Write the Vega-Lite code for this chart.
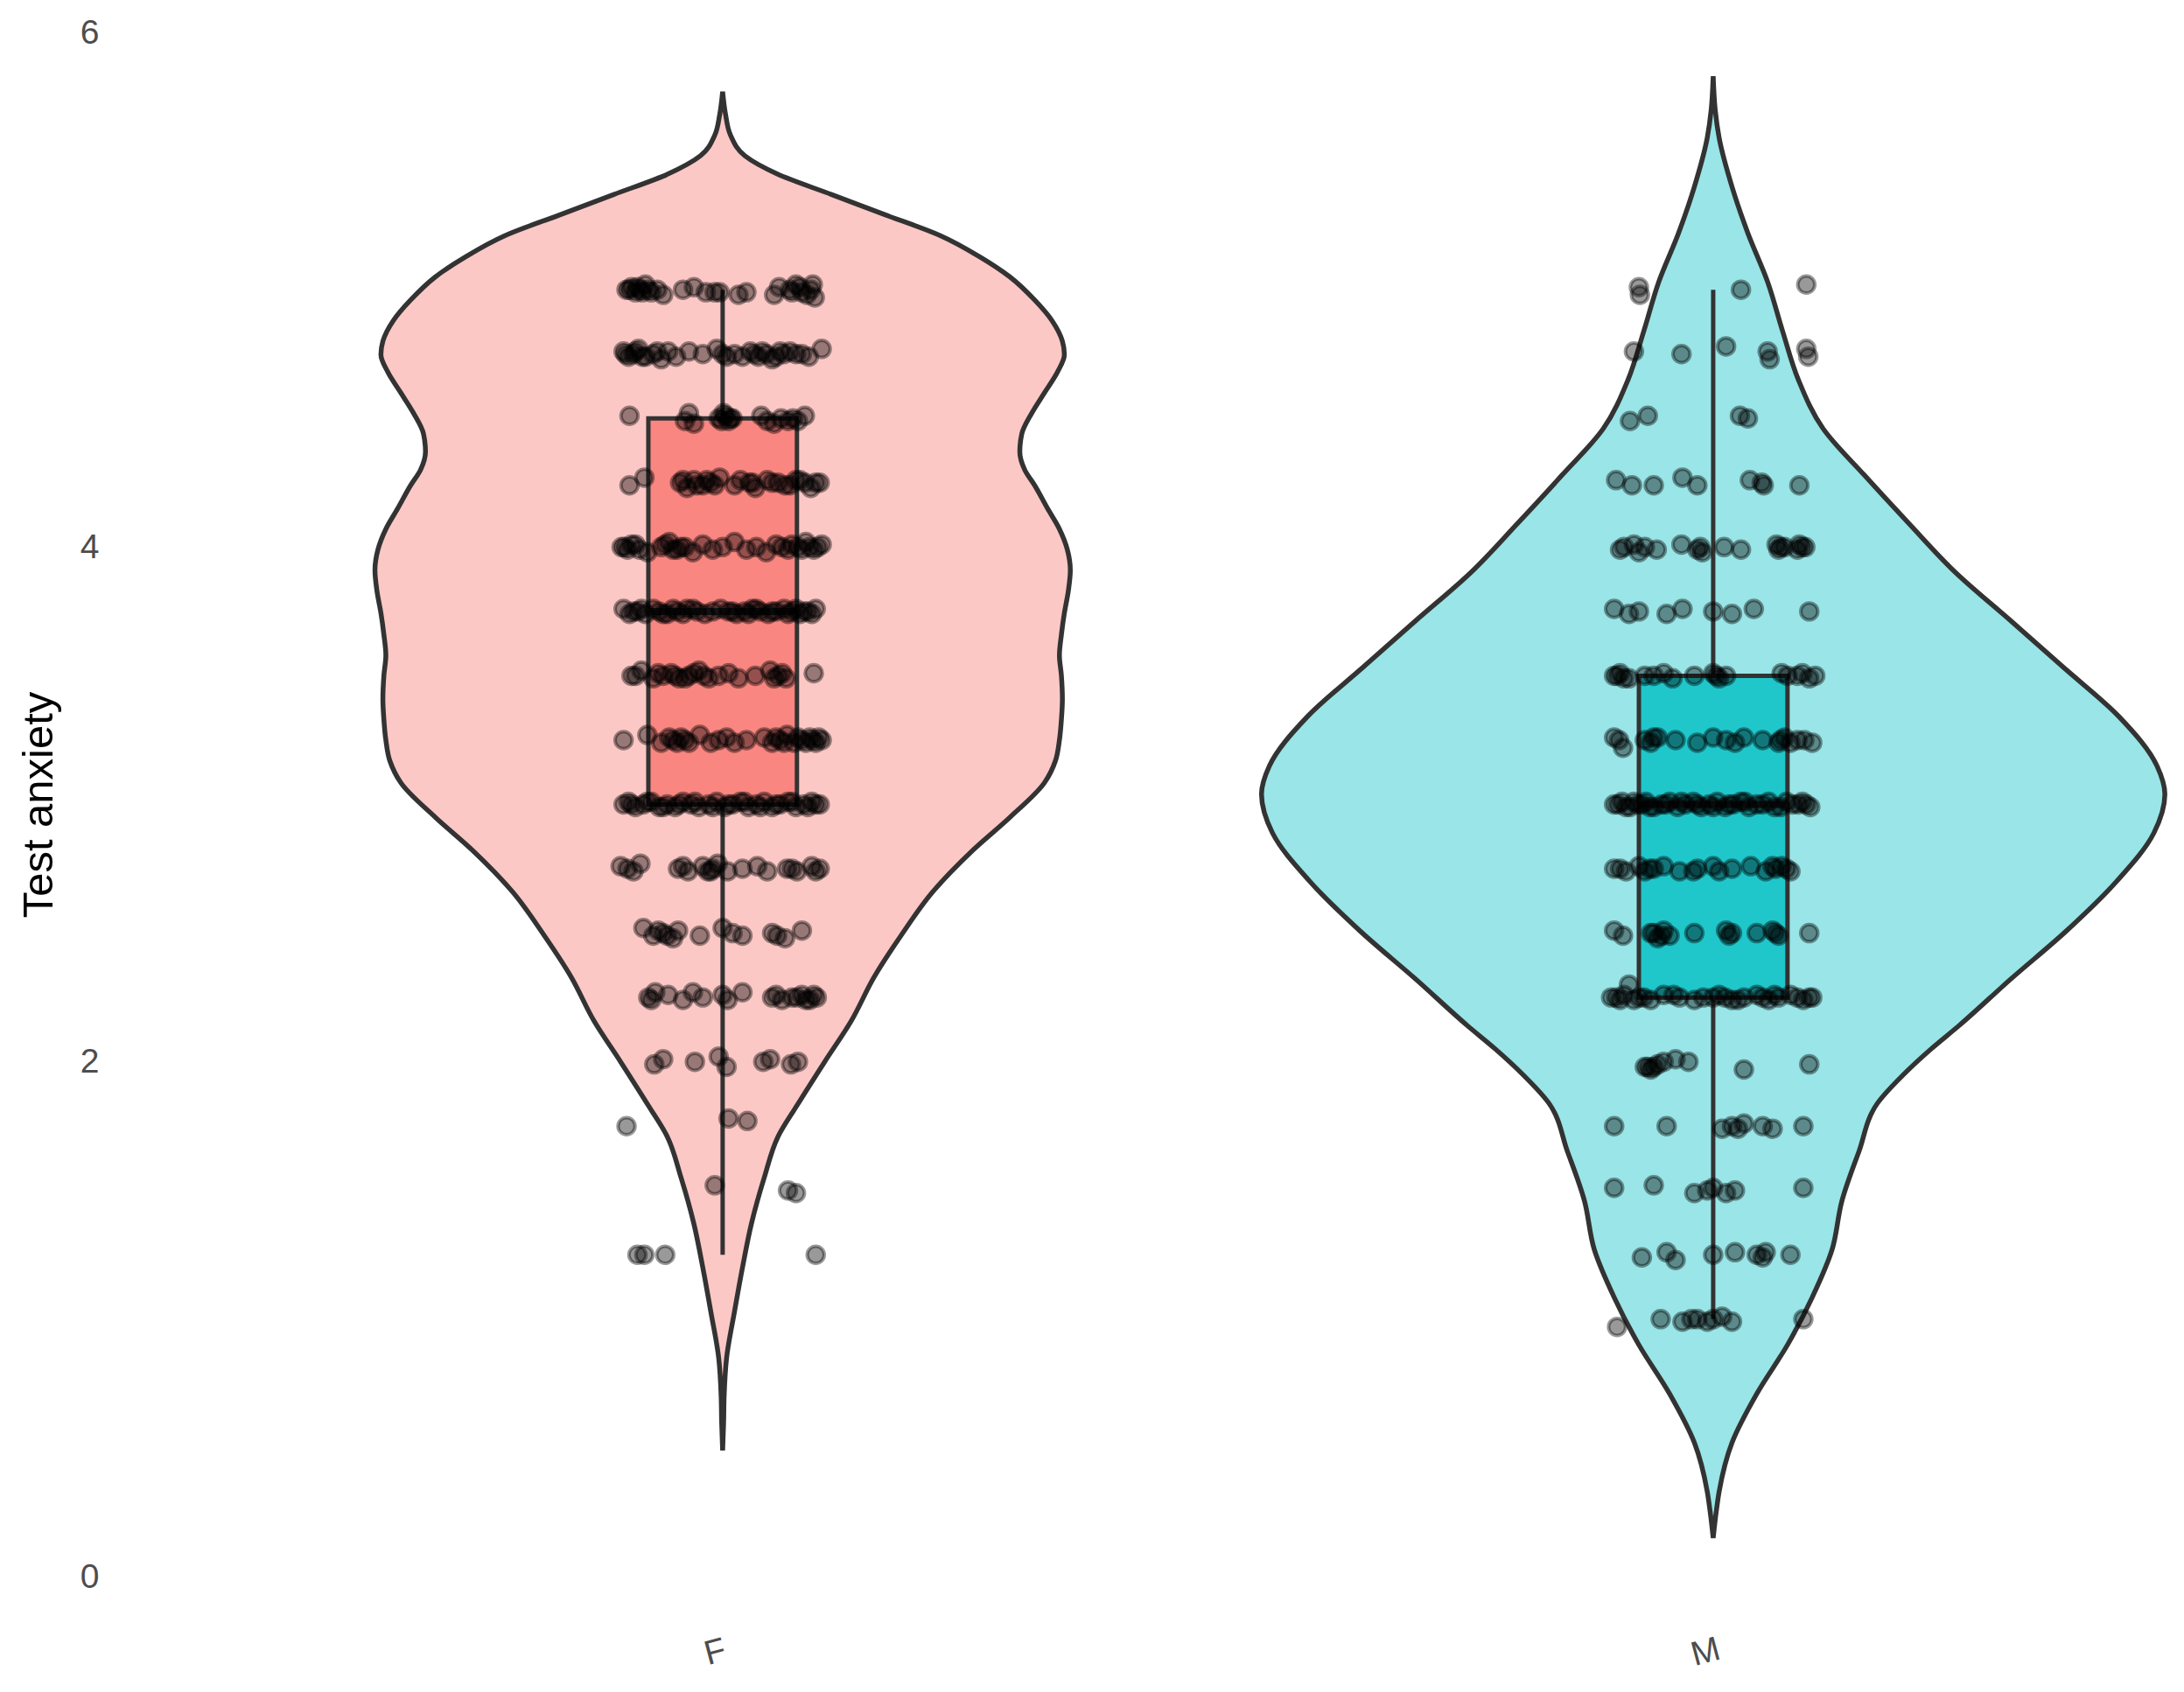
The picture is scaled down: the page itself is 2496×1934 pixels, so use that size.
{
  "$schema": "https://vega.github.io/schema/vega-lite/v6.json",
  "autosize": {"type": "none"},
  "padding": {"left": 124, "top": 37, "right": 6, "bottom": 132},
  "background": "#ffffff",
  "width": 2366,
  "height": 1765,
  "config": {
    "view": {"stroke": null},
    "axis": {"grid": false, "domain": false, "ticks": false, "labelFont": "Liberation Sans", "labelFontSize": 39, "labelColor": "#4D4D4D", "titleFont": "Liberation Sans", "titleFontSize": 49, "titleColor": "#000000", "titleFontWeight": "normal"}
  },
  "datasets": {
    "violin": [
      {"g":"F","y":0.49,"w":0},{"g":"F","y":0.6,"w":0.002},{"g":"F","y":0.7,"w":0.003},{"g":"F","y":0.85,"w":0.008},{"g":"F","y":1.03,"w":0.024},{"g":"F","y":1.2,"w":0.04},{"g":"F","y":1.37,"w":0.058},{"g":"F","y":1.55,"w":0.084},{"g":"F","y":1.71,"w":0.112},{"g":"F","y":1.83,"w":0.15},{"g":"F","y":2.0,"w":0.206},{"g":"F","y":2.16,"w":0.26},{"g":"F","y":2.33,"w":0.306},{"g":"F","y":2.49,"w":0.36},{"g":"F","y":2.66,"w":0.424},{"g":"F","y":2.82,"w":0.504},{"g":"F","y":2.95,"w":0.58},{"g":"F","y":3.085,"w":0.65},{"g":"F","y":3.17,"w":0.672},{"g":"F","y":3.25,"w":0.68},{"g":"F","y":3.33,"w":0.684},{"g":"F","y":3.41,"w":0.686},{"g":"F","y":3.5,"w":0.684},{"g":"F","y":3.58,"w":0.68},{"g":"F","y":3.66,"w":0.684},{"g":"F","y":3.744,"w":0.69},{"g":"F","y":3.83,"w":0.698},{"g":"F","y":3.91,"w":0.702},{"g":"F","y":3.99,"w":0.696},{"g":"F","y":4.07,"w":0.68},{"g":"F","y":4.15,"w":0.656},{"g":"F","y":4.24,"w":0.63},{"g":"F","y":4.3,"w":0.61},{"g":"F","y":4.37,"w":0.6},{"g":"F","y":4.44,"w":0.604},{"g":"F","y":4.52,"w":0.624},{"g":"F","y":4.6,"w":0.65},{"g":"F","y":4.68,"w":0.676},{"g":"F","y":4.748,"w":0.69},{"g":"F","y":4.8,"w":0.686},{"g":"F","y":4.88,"w":0.665},{"g":"F","y":4.96,"w":0.63},{"g":"F","y":5.05,"w":0.58},{"g":"F","y":5.127,"w":0.52},{"g":"F","y":5.21,"w":0.44},{"g":"F","y":5.29,"w":0.33},{"g":"F","y":5.37,"w":0.22},{"g":"F","y":5.45,"w":0.11},{"g":"F","y":5.52,"w":0.045},{"g":"F","y":5.6,"w":0.016},{"g":"F","y":5.68,"w":0.006},{"g":"F","y":5.77,"w":0},
      {"g":"M","y":0.15,"w":0},{"g":"M","y":0.25,"w":0.006},{"g":"M","y":0.33,"w":0.012},{"g":"M","y":0.52,"w":0.038},{"g":"M","y":0.71,"w":0.088},{"g":"M","y":0.9,"w":0.15},{"g":"M","y":1.085,"w":0.2},{"g":"M","y":1.27,"w":0.24},{"g":"M","y":1.46,"w":0.26},{"g":"M","y":1.65,"w":0.294},{"g":"M","y":1.84,"w":0.332},{"g":"M","y":1.95,"w":0.384},{"g":"M","y":2.05,"w":0.44},{"g":"M","y":2.14,"w":0.496},{"g":"M","y":2.32,"w":0.6},{"g":"M","y":2.51,"w":0.714},{"g":"M","y":2.7,"w":0.814},{"g":"M","y":2.89,"w":0.89},{"g":"M","y":3.04,"w":0.912},{"g":"M","y":3.15,"w":0.896},{"g":"M","y":3.34,"w":0.82},{"g":"M","y":3.528,"w":0.71},{"g":"M","y":3.715,"w":0.6},{"g":"M","y":3.9,"w":0.49},{"g":"M","y":4.09,"w":0.396},{"g":"M","y":4.28,"w":0.305},{"g":"M","y":4.46,"w":0.222},{"g":"M","y":4.65,"w":0.172},{"g":"M","y":4.84,"w":0.14},{"g":"M","y":5.03,"w":0.11},{"g":"M","y":5.22,"w":0.07},{"g":"M","y":5.4,"w":0.038},{"g":"M","y":5.59,"w":0.012},{"g":"M","y":5.7,"w":0.004},{"g":"M","y":5.83,"w":0}
    ],
    "box": [
      {"g":"F","lo":1.25,"q1":3.0,"med":3.75,"q3":4.5,"hi":5.0},
      {"g":"M","lo":1.0,"q1":2.25,"med":3.0,"q3":3.5,"hi":5.0}
    ],
    "pts": [
      {"g":"F","y":5.0,"j":-0.097},{"g":"F","y":5.01,"j":-0.092},{"g":"F","y":4.99,"j":-0.088},{"g":"F","y":5.0,"j":-0.083},{"g":"F","y":5.02,"j":-0.078},{"g":"F","y":4.99,"j":-0.072},{"g":"F","y":5.0,"j":-0.066},{"g":"F","y":4.98,"j":-0.06},{"g":"F","y":5.0,"j":-0.04},{"g":"F","y":5.01,"j":-0.029},{"g":"F","y":4.99,"j":-0.017},{"g":"F","y":4.99,"j":-0.008},{"g":"F","y":4.98,"j":0.016},{"g":"F","y":4.99,"j":0.024},{"g":"F","y":4.98,"j":0.052},{"g":"F","y":5.01,"j":0.057},{"g":"F","y":5.0,"j":0.068},{"g":"F","y":5.02,"j":0.074},{"g":"F","y":4.99,"j":0.08},{"g":"F","y":5.0,"j":0.089},{"g":"F","y":4.97,"j":0.093},
      {"g":"F","y":5.0,"j":-0.094},{"g":"F","y":5.01,"j":-0.086},{"g":"F","y":4.99,"j":-0.081},{"g":"F","y":5.0,"j":-0.075},{"g":"F","y":4.99,"j":0.07},{"g":"F","y":5.01,"j":0.078},{"g":"F","y":4.98,"j":0.085},{"g":"F","y":5.02,"j":0.091},{"g":"F","y":4.99,"j":-0.003},
      {"g":"F","y":4.76,"j":-0.1},{"g":"F","y":4.74,"j":-0.095},{"g":"F","y":4.75,"j":-0.09},{"g":"F","y":4.77,"j":-0.085},{"g":"F","y":4.74,"j":-0.078},{"g":"F","y":4.75,"j":-0.07},{"g":"F","y":4.73,"j":-0.062},{"g":"F","y":4.76,"j":-0.055},{"g":"F","y":4.74,"j":-0.047},{"g":"F","y":4.76,"j":-0.034},{"g":"F","y":4.75,"j":-0.02},{"g":"F","y":4.77,"j":-0.006},{"g":"F","y":4.74,"j":0.004},{"g":"F","y":4.75,"j":0.012},{"g":"F","y":4.74,"j":0.02},{"g":"F","y":4.76,"j":0.028},{"g":"F","y":4.74,"j":0.036},{"g":"F","y":4.75,"j":0.044},{"g":"F","y":4.73,"j":0.05},{"g":"F","y":4.76,"j":0.058},{"g":"F","y":4.75,"j":0.074},{"g":"F","y":4.74,"j":0.087},{"g":"F","y":4.77,"j":0.1},
      {"g":"F","y":4.75,"j":-0.098},{"g":"F","y":4.76,"j":-0.088},{"g":"F","y":4.74,"j":-0.081},{"g":"F","y":4.76,"j":-0.066},{"g":"F","y":4.75,"j":0.0},{"g":"F","y":4.75,"j":0.032},{"g":"F","y":4.76,"j":0.04},{"g":"F","y":4.74,"j":0.054},{"g":"F","y":4.75,"j":0.062},{"g":"F","y":4.76,"j":0.068},{"g":"F","y":4.75,"j":0.08},
      {"g":"F","y":4.51,"j":-0.094},{"g":"F","y":4.52,"j":-0.034},{"g":"F","y":4.48,"j":-0.029},{"g":"F","y":4.5,"j":-0.004},{"g":"F","y":4.52,"j":0.001},{"g":"F","y":4.49,"j":0.006},{"g":"F","y":4.5,"j":0.01},{"g":"F","y":4.51,"j":0.039},{"g":"F","y":4.49,"j":0.045},{"g":"F","y":4.48,"j":0.052},{"g":"F","y":4.5,"j":0.059},{"g":"F","y":4.49,"j":0.066},{"g":"F","y":4.5,"j":0.071},{"g":"F","y":4.51,"j":0.083},
      {"g":"F","y":4.51,"j":0.003},{"g":"F","y":4.5,"j":0.008},{"g":"F","y":4.49,"j":-0.001},{"g":"F","y":4.49,"j":0.076},{"g":"F","y":4.49,"j":-0.038},
      {"g":"F","y":4.24,"j":-0.094},{"g":"F","y":4.27,"j":-0.079},{"g":"F","y":4.25,"j":-0.043},{"g":"F","y":4.23,"j":-0.036},{"g":"F","y":4.26,"j":-0.029},{"g":"F","y":4.24,"j":-0.02},{"g":"F","y":4.25,"j":-0.012},{"g":"F","y":4.27,"j":-0.003},{"g":"F","y":4.24,"j":0.012},{"g":"F","y":4.25,"j":0.027},{"g":"F","y":4.23,"j":0.033},{"g":"F","y":4.26,"j":0.045},{"g":"F","y":4.25,"j":0.05},{"g":"F","y":4.24,"j":0.063},{"g":"F","y":4.26,"j":0.074},{"g":"F","y":4.25,"j":0.083},{"g":"F","y":4.23,"j":0.089},{"g":"F","y":4.25,"j":0.098},
      {"g":"F","y":4.26,"j":-0.04},{"g":"F","y":4.24,"j":-0.026},{"g":"F","y":4.26,"j":-0.016},{"g":"F","y":4.24,"j":-0.008},{"g":"F","y":4.26,"j":0.018},{"g":"F","y":4.25,"j":0.03},{"g":"F","y":4.25,"j":0.056},{"g":"F","y":4.24,"j":0.068},{"g":"F","y":4.26,"j":0.078},{"g":"F","y":4.25,"j":0.094},
      {"g":"F","y":4.0,"j":-0.102},{"g":"F","y":3.99,"j":-0.096},{"g":"F","y":4.01,"j":-0.088},{"g":"F","y":3.98,"j":-0.076},{"g":"F","y":4.0,"j":-0.062},{"g":"F","y":4.02,"j":-0.054},{"g":"F","y":3.99,"j":-0.046},{"g":"F","y":4.0,"j":-0.038},{"g":"F","y":3.98,"j":-0.03},{"g":"F","y":4.01,"j":-0.02},{"g":"F","y":3.99,"j":-0.01},{"g":"F","y":4.0,"j":0.0},{"g":"F","y":4.02,"j":0.012},{"g":"F","y":3.99,"j":0.024},{"g":"F","y":4.0,"j":0.034},{"g":"F","y":3.98,"j":0.044},{"g":"F","y":4.01,"j":0.054},{"g":"F","y":3.99,"j":0.066},{"g":"F","y":4.0,"j":0.076},{"g":"F","y":4.02,"j":0.084},{"g":"F","y":3.99,"j":0.092},{"g":"F","y":4.01,"j":0.1},
      {"g":"F","y":4.0,"j":-0.099},{"g":"F","y":4.01,"j":-0.092},{"g":"F","y":3.99,"j":-0.084},{"g":"F","y":4.01,"j":-0.058},{"g":"F","y":3.99,"j":-0.05},{"g":"F","y":4.0,"j":-0.042},{"g":"F","y":4.0,"j":0.06},{"g":"F","y":4.01,"j":0.07},{"g":"F","y":3.99,"j":0.08},{"g":"F","y":4.0,"j":0.088},{"g":"F","y":4.0,"j":0.096},
      {"g":"F","y":3.76,"j":-0.1},{"g":"F","y":3.74,"j":-0.094},{"g":"F","y":3.75,"j":-0.086},{"g":"F","y":3.74,"j":-0.078},{"g":"F","y":3.76,"j":-0.07},{"g":"F","y":3.75,"j":-0.064},{"g":"F","y":3.74,"j":-0.056},{"g":"F","y":3.75,"j":-0.046},{"g":"F","y":3.76,"j":-0.036},{"g":"F","y":3.75,"j":-0.026},{"g":"F","y":3.74,"j":-0.018},{"g":"F","y":3.75,"j":-0.01},{"g":"F","y":3.76,"j":-0.002},{"g":"F","y":3.75,"j":0.006},{"g":"F","y":3.74,"j":0.014},{"g":"F","y":3.75,"j":0.022},{"g":"F","y":3.76,"j":0.03},{"g":"F","y":3.75,"j":0.038},{"g":"F","y":3.74,"j":0.046},{"g":"F","y":3.75,"j":0.054},{"g":"F","y":3.76,"j":0.062},{"g":"F","y":3.75,"j":0.07},{"g":"F","y":3.74,"j":0.078},{"g":"F","y":3.75,"j":0.086},{"g":"F","y":3.76,"j":0.094},
      {"g":"F","y":3.75,"j":-0.09},{"g":"F","y":3.76,"j":-0.082},{"g":"F","y":3.74,"j":-0.06},{"g":"F","y":3.76,"j":-0.05},{"g":"F","y":3.74,"j":-0.04},{"g":"F","y":3.76,"j":-0.03},{"g":"F","y":3.75,"j":0.01},{"g":"F","y":3.74,"j":0.026},{"g":"F","y":3.76,"j":0.034},{"g":"F","y":3.75,"j":0.05},{"g":"F","y":3.74,"j":0.066},{"g":"F","y":3.76,"j":0.074},{"g":"F","y":3.75,"j":0.082},{"g":"F","y":3.74,"j":0.09},
      {"g":"F","y":3.5,"j":-0.092},{"g":"F","y":3.52,"j":-0.082},{"g":"F","y":3.49,"j":-0.07},{"g":"F","y":3.5,"j":-0.06},{"g":"F","y":3.51,"j":-0.052},{"g":"F","y":3.49,"j":-0.044},{"g":"F","y":3.5,"j":-0.034},{"g":"F","y":3.52,"j":-0.024},{"g":"F","y":3.49,"j":-0.014},{"g":"F","y":3.5,"j":-0.004},{"g":"F","y":3.51,"j":0.006},{"g":"F","y":3.49,"j":0.016},{"g":"F","y":3.5,"j":0.033},{"g":"F","y":3.52,"j":0.048},{"g":"F","y":3.5,"j":0.056},{"g":"F","y":3.49,"j":0.064},{"g":"F","y":3.51,"j":0.092},
      {"g":"F","y":3.5,"j":-0.088},{"g":"F","y":3.51,"j":-0.065},{"g":"F","y":3.5,"j":-0.048},{"g":"F","y":3.49,"j":-0.038},{"g":"F","y":3.51,"j":-0.029},{"g":"F","y":3.5,"j":-0.019},{"g":"F","y":3.51,"j":0.06},{"g":"F","y":3.49,"j":0.052},
      {"g":"F","y":3.25,"j":-0.1},{"g":"F","y":3.27,"j":-0.076},{"g":"F","y":3.24,"j":-0.062},{"g":"F","y":3.26,"j":-0.054},{"g":"F","y":3.24,"j":-0.046},{"g":"F","y":3.25,"j":-0.038},{"g":"F","y":3.27,"j":-0.023},{"g":"F","y":3.24,"j":-0.012},{"g":"F","y":3.25,"j":-0.004},{"g":"F","y":3.26,"j":0.004},{"g":"F","y":3.24,"j":0.012},{"g":"F","y":3.25,"j":0.024},{"g":"F","y":3.26,"j":0.042},{"g":"F","y":3.24,"j":0.05},{"g":"F","y":3.25,"j":0.058},{"g":"F","y":3.27,"j":0.065},{"g":"F","y":3.24,"j":0.072},{"g":"F","y":3.25,"j":0.08},{"g":"F","y":3.26,"j":0.088},{"g":"F","y":3.24,"j":0.094},{"g":"F","y":3.25,"j":0.1},
      {"g":"F","y":3.25,"j":-0.05},{"g":"F","y":3.26,"j":-0.042},{"g":"F","y":3.24,"j":-0.034},{"g":"F","y":3.26,"j":0.054},{"g":"F","y":3.24,"j":0.062},{"g":"F","y":3.26,"j":0.076},{"g":"F","y":3.24,"j":0.084},{"g":"F","y":3.25,"j":0.091},{"g":"F","y":3.26,"j":0.097},
      {"g":"F","y":3.0,"j":-0.1},{"g":"F","y":3.01,"j":-0.095},{"g":"F","y":2.99,"j":-0.088},{"g":"F","y":3.0,"j":-0.08},{"g":"F","y":3.01,"j":-0.072},{"g":"F","y":2.99,"j":-0.064},{"g":"F","y":3.0,"j":-0.056},{"g":"F","y":2.99,"j":-0.048},{"g":"F","y":3.01,"j":-0.04},{"g":"F","y":3.0,"j":-0.032},{"g":"F","y":2.99,"j":-0.024},{"g":"F","y":3.0,"j":-0.014},{"g":"F","y":3.01,"j":-0.006},{"g":"F","y":2.99,"j":0.002},{"g":"F","y":3.0,"j":0.01},{"g":"F","y":3.01,"j":0.018},{"g":"F","y":2.99,"j":0.026},{"g":"F","y":3.0,"j":0.034},{"g":"F","y":3.01,"j":0.042},{"g":"F","y":2.99,"j":0.05},{"g":"F","y":3.0,"j":0.058},{"g":"F","y":3.01,"j":0.066},{"g":"F","y":2.99,"j":0.074},{"g":"F","y":3.0,"j":0.082},{"g":"F","y":3.01,"j":0.09},{"g":"F","y":3.0,"j":0.098},
      {"g":"F","y":3.0,"j":-0.092},{"g":"F","y":3.01,"j":-0.076},{"g":"F","y":2.99,"j":-0.06},{"g":"F","y":3.0,"j":-0.044},{"g":"F","y":3.01,"j":-0.028},{"g":"F","y":2.99,"j":-0.01},{"g":"F","y":3.0,"j":0.006},{"g":"F","y":3.01,"j":0.022},{"g":"F","y":2.99,"j":0.038},{"g":"F","y":3.0,"j":0.054},{"g":"F","y":3.01,"j":0.07},{"g":"F","y":2.99,"j":0.086},{"g":"F","y":3.0,"j":0.094},
      {"g":"F","y":2.76,"j":-0.103},{"g":"F","y":2.74,"j":-0.09},{"g":"F","y":2.77,"j":-0.083},{"g":"F","y":2.75,"j":-0.045},{"g":"F","y":2.74,"j":-0.035},{"g":"F","y":2.76,"j":-0.02},{"g":"F","y":2.74,"j":-0.015},{"g":"F","y":2.75,"j":-0.01},{"g":"F","y":2.77,"j":-0.005},{"g":"F","y":2.74,"j":0.005},{"g":"F","y":2.75,"j":0.02},{"g":"F","y":2.76,"j":0.035},{"g":"F","y":2.74,"j":0.045},{"g":"F","y":2.75,"j":0.065},{"g":"F","y":2.74,"j":0.075},{"g":"F","y":2.76,"j":0.09},{"g":"F","y":2.75,"j":0.098},
      {"g":"F","y":2.75,"j":-0.096},{"g":"F","y":2.76,"j":-0.04},{"g":"F","y":2.74,"j":-0.012},{"g":"F","y":2.75,"j":0.07},{"g":"F","y":2.74,"j":0.094},
      {"g":"F","y":2.52,"j":-0.08},{"g":"F","y":2.49,"j":-0.07},{"g":"F","y":2.5,"j":-0.06},{"g":"F","y":2.48,"j":-0.05},{"g":"F","y":2.51,"j":-0.045},{"g":"F","y":2.49,"j":-0.023},{"g":"F","y":2.52,"j":0.0},{"g":"F","y":2.5,"j":0.01},{"g":"F","y":2.49,"j":0.02},{"g":"F","y":2.5,"j":0.05},{"g":"F","y":2.48,"j":0.063},{"g":"F","y":2.51,"j":0.08},
      {"g":"F","y":2.49,"j":-0.056},{"g":"F","y":2.51,"j":-0.065},{"g":"F","y":2.49,"j":0.055},
      {"g":"F","y":2.25,"j":-0.075},{"g":"F","y":2.27,"j":-0.068},{"g":"F","y":2.26,"j":-0.055},{"g":"F","y":2.24,"j":-0.04},{"g":"F","y":2.27,"j":-0.03},{"g":"F","y":2.25,"j":-0.02},{"g":"F","y":2.26,"j":0.0},{"g":"F","y":2.24,"j":0.005},{"g":"F","y":2.27,"j":0.02},{"g":"F","y":2.25,"j":0.05},{"g":"F","y":2.24,"j":0.06},{"g":"F","y":2.25,"j":0.07},{"g":"F","y":2.26,"j":0.08},{"g":"F","y":2.24,"j":0.088},{"g":"F","y":2.25,"j":0.095},
      {"g":"F","y":2.25,"j":0.075},{"g":"F","y":2.24,"j":0.084},{"g":"F","y":2.26,"j":0.092},{"g":"F","y":2.24,"j":-0.072},{"g":"F","y":2.26,"j":0.054},
      {"g":"F","y":1.99,"j":-0.069},{"g":"F","y":2.01,"j":-0.06},{"g":"F","y":2.0,"j":-0.028},{"g":"F","y":2.02,"j":-0.004},{"g":"F","y":1.98,"j":0.004},{"g":"F","y":2.0,"j":0.041},{"g":"F","y":2.01,"j":0.048},{"g":"F","y":1.99,"j":0.069},{"g":"F","y":2.0,"j":0.076},
      {"g":"F","y":1.75,"j":-0.097},{"g":"F","y":1.78,"j":0.006},{"g":"F","y":1.77,"j":0.025},
      {"g":"F","y":1.52,"j":-0.008},{"g":"F","y":1.5,"j":0.066},{"g":"F","y":1.49,"j":0.074},
      {"g":"F","y":1.25,"j":-0.086},{"g":"F","y":1.25,"j":-0.079},{"g":"F","y":1.25,"j":-0.058},{"g":"F","y":1.25,"j":0.094},
      {"g":"M","y":5.01,"j":-0.075},{"g":"M","y":4.98,"j":-0.074},{"g":"M","y":5.0,"j":0.028},{"g":"M","y":5.02,"j":0.094},
      {"g":"M","y":4.76,"j":-0.08},{"g":"M","y":4.75,"j":-0.032},{"g":"M","y":4.78,"j":0.013},{"g":"M","y":4.76,"j":0.055},{"g":"M","y":4.73,"j":0.057},{"g":"M","y":4.77,"j":0.094},{"g":"M","y":4.74,"j":0.096},
      {"g":"M","y":4.49,"j":-0.084},{"g":"M","y":4.51,"j":-0.066},{"g":"M","y":4.51,"j":0.027},{"g":"M","y":4.5,"j":0.035},
      {"g":"M","y":4.26,"j":-0.098},{"g":"M","y":4.24,"j":-0.082},{"g":"M","y":4.24,"j":-0.06},{"g":"M","y":4.27,"j":-0.031},{"g":"M","y":4.24,"j":-0.016},{"g":"M","y":4.26,"j":0.037},{"g":"M","y":4.25,"j":0.049},{"g":"M","y":4.24,"j":0.051},{"g":"M","y":4.24,"j":0.087},
      {"g":"M","y":3.99,"j":-0.094},{"g":"M","y":4.01,"j":-0.08},{"g":"M","y":3.98,"j":-0.075},{"g":"M","y":4.0,"j":-0.069},{"g":"M","y":3.99,"j":-0.057},{"g":"M","y":4.01,"j":-0.032},{"g":"M","y":3.99,"j":-0.016},{"g":"M","y":4.0,"j":-0.013},{"g":"M","y":3.98,"j":-0.011},{"g":"M","y":4.0,"j":0.011},{"g":"M","y":3.99,"j":0.028},{"g":"M","y":4.01,"j":0.064},{"g":"M","y":3.99,"j":0.066},{"g":"M","y":4.0,"j":0.072},{"g":"M","y":3.99,"j":0.085},{"g":"M","y":4.01,"j":0.087},{"g":"M","y":4.0,"j":0.093},
      {"g":"M","y":4.0,"j":-0.09},{"g":"M","y":4.0,"j":0.068},{"g":"M","y":4.0,"j":0.09},
      {"g":"M","y":3.76,"j":-0.1},{"g":"M","y":3.74,"j":-0.085},{"g":"M","y":3.75,"j":-0.075},{"g":"M","y":3.74,"j":-0.047},{"g":"M","y":3.76,"j":-0.031},{"g":"M","y":3.75,"j":0.0},{"g":"M","y":3.74,"j":0.019},{"g":"M","y":3.76,"j":0.041},{"g":"M","y":3.75,"j":0.097},
      {"g":"M","y":3.5,"j":-0.1},{"g":"M","y":3.51,"j":-0.094},{"g":"M","y":3.49,"j":-0.085},{"g":"M","y":3.5,"j":-0.069},{"g":"M","y":3.51,"j":-0.05},{"g":"M","y":3.49,"j":-0.041},{"g":"M","y":3.5,"j":-0.019},{"g":"M","y":3.51,"j":0.0},{"g":"M","y":3.49,"j":0.006},{"g":"M","y":3.5,"j":0.013},{"g":"M","y":3.51,"j":0.069},{"g":"M","y":3.5,"j":0.085},{"g":"M","y":3.49,"j":0.097},{"g":"M","y":3.5,"j":0.103},
      {"g":"M","y":3.5,"j":-0.097},{"g":"M","y":3.49,"j":-0.09},{"g":"M","y":3.5,"j":-0.06},{"g":"M","y":3.5,"j":0.003},{"g":"M","y":3.5,"j":0.075},{"g":"M","y":3.51,"j":0.09},
      {"g":"M","y":3.26,"j":-0.1},{"g":"M","y":3.22,"j":-0.091},{"g":"M","y":3.25,"j":-0.069},{"g":"M","y":3.24,"j":-0.063},{"g":"M","y":3.26,"j":-0.056},{"g":"M","y":3.25,"j":-0.038},{"g":"M","y":3.24,"j":-0.016},{"g":"M","y":3.26,"j":0.0},{"g":"M","y":3.25,"j":0.013},{"g":"M","y":3.24,"j":0.022},{"g":"M","y":3.26,"j":0.031},{"g":"M","y":3.25,"j":0.05},{"g":"M","y":3.24,"j":0.066},{"g":"M","y":3.26,"j":0.072},{"g":"M","y":3.25,"j":0.085},{"g":"M","y":3.24,"j":0.1},
      {"g":"M","y":3.25,"j":-0.095},{"g":"M","y":3.26,"j":-0.06},{"g":"M","y":3.25,"j":0.068},{"g":"M","y":3.24,"j":0.078},{"g":"M","y":3.25,"j":0.092},
      {"g":"M","y":3.0,"j":-0.1},{"g":"M","y":3.01,"j":-0.092},{"g":"M","y":2.99,"j":-0.084},{"g":"M","y":3.0,"j":-0.076},{"g":"M","y":3.01,"j":-0.068},{"g":"M","y":2.99,"j":-0.06},{"g":"M","y":3.0,"j":-0.052},{"g":"M","y":3.01,"j":-0.044},{"g":"M","y":2.99,"j":-0.036},{"g":"M","y":3.0,"j":-0.028},{"g":"M","y":3.01,"j":-0.02},{"g":"M","y":2.99,"j":-0.012},{"g":"M","y":3.0,"j":-0.004},{"g":"M","y":3.01,"j":0.004},{"g":"M","y":2.99,"j":0.012},{"g":"M","y":3.0,"j":0.02},{"g":"M","y":3.01,"j":0.028},{"g":"M","y":2.99,"j":0.036},{"g":"M","y":3.0,"j":0.044},{"g":"M","y":3.01,"j":0.056},{"g":"M","y":2.99,"j":0.068},{"g":"M","y":3.0,"j":0.08},{"g":"M","y":3.01,"j":0.09},{"g":"M","y":2.99,"j":0.098},
      {"g":"M","y":3.0,"j":-0.096},{"g":"M","y":2.99,"j":-0.088},{"g":"M","y":3.01,"j":-0.08},{"g":"M","y":3.0,"j":-0.072},{"g":"M","y":2.99,"j":-0.064},{"g":"M","y":3.0,"j":-0.048},{"g":"M","y":3.01,"j":-0.032},{"g":"M","y":3.0,"j":-0.016},{"g":"M","y":2.99,"j":0.0},{"g":"M","y":3.0,"j":0.016},{"g":"M","y":3.01,"j":0.032},{"g":"M","y":3.0,"j":0.05},{"g":"M","y":2.99,"j":0.062},{"g":"M","y":3.01,"j":0.074},{"g":"M","y":3.0,"j":0.086},{"g":"M","y":3.0,"j":0.094},
      {"g":"M","y":2.75,"j":-0.1},{"g":"M","y":2.74,"j":-0.088},{"g":"M","y":2.76,"j":-0.075},{"g":"M","y":2.74,"j":-0.069},{"g":"M","y":2.75,"j":-0.06},{"g":"M","y":2.76,"j":-0.05},{"g":"M","y":2.74,"j":-0.034},{"g":"M","y":2.75,"j":-0.016},{"g":"M","y":2.76,"j":0.0},{"g":"M","y":2.74,"j":0.006},{"g":"M","y":2.75,"j":0.019},{"g":"M","y":2.76,"j":0.038},{"g":"M","y":2.74,"j":0.053},{"g":"M","y":2.75,"j":0.063},{"g":"M","y":2.76,"j":0.069},{"g":"M","y":2.74,"j":0.078},
      {"g":"M","y":2.75,"j":-0.094},{"g":"M","y":2.75,"j":-0.064},{"g":"M","y":2.74,"j":-0.02},{"g":"M","y":2.75,"j":0.074},{"g":"M","y":2.76,"j":0.06},
      {"g":"M","y":2.51,"j":-0.1},{"g":"M","y":2.49,"j":-0.091},{"g":"M","y":2.5,"j":-0.063},{"g":"M","y":2.48,"j":-0.056},{"g":"M","y":2.51,"j":-0.05},{"g":"M","y":2.49,"j":-0.044},{"g":"M","y":2.5,"j":-0.019},{"g":"M","y":2.51,"j":0.013},{"g":"M","y":2.49,"j":0.016},{"g":"M","y":2.5,"j":0.044},{"g":"M","y":2.51,"j":0.06},{"g":"M","y":2.49,"j":0.066},{"g":"M","y":2.5,"j":0.097},
      {"g":"M","y":2.5,"j":-0.06},{"g":"M","y":2.49,"j":-0.052},{"g":"M","y":2.5,"j":0.019},{"g":"M","y":2.5,"j":0.063},
      {"g":"M","y":2.25,"j":-0.103},{"g":"M","y":2.24,"j":-0.094},{"g":"M","y":2.3,"j":-0.085},{"g":"M","y":2.25,"j":-0.075},{"g":"M","y":2.24,"j":-0.063},{"g":"M","y":2.26,"j":-0.05},{"g":"M","y":2.25,"j":-0.034},{"g":"M","y":2.24,"j":-0.019},{"g":"M","y":2.25,"j":0.0},{"g":"M","y":2.26,"j":0.006},{"g":"M","y":2.24,"j":0.019},{"g":"M","y":2.25,"j":0.031},{"g":"M","y":2.26,"j":0.044},{"g":"M","y":2.24,"j":0.056},{"g":"M","y":2.25,"j":0.066},{"g":"M","y":2.26,"j":0.078},{"g":"M","y":2.24,"j":0.091},{"g":"M","y":2.25,"j":0.097},
      {"g":"M","y":2.25,"j":-0.098},{"g":"M","y":2.26,"j":-0.09},{"g":"M","y":2.24,"j":-0.08},{"g":"M","y":2.25,"j":-0.07},{"g":"M","y":2.26,"j":-0.04},{"g":"M","y":2.25,"j":-0.01},{"g":"M","y":2.25,"j":0.012},{"g":"M","y":2.24,"j":0.025},{"g":"M","y":2.25,"j":0.05},{"g":"M","y":2.26,"j":0.062},{"g":"M","y":2.25,"j":0.085},{"g":"M","y":2.25,"j":0.1},
      {"g":"M","y":1.98,"j":-0.069},{"g":"M","y":1.97,"j":-0.063},{"g":"M","y":1.99,"j":-0.056},{"g":"M","y":2.0,"j":-0.05},{"g":"M","y":2.01,"j":-0.038},{"g":"M","y":2.0,"j":-0.025},{"g":"M","y":1.97,"j":0.031},{"g":"M","y":1.99,"j":0.097},
      {"g":"M","y":1.98,"j":-0.066},{"g":"M","y":1.98,"j":-0.06},
      {"g":"M","y":1.75,"j":-0.1},{"g":"M","y":1.75,"j":-0.047},{"g":"M","y":1.74,"j":0.009},{"g":"M","y":1.75,"j":0.019},{"g":"M","y":1.74,"j":0.025},{"g":"M","y":1.76,"j":0.031},{"g":"M","y":1.75,"j":0.05},{"g":"M","y":1.74,"j":0.06},{"g":"M","y":1.75,"j":0.091},
      {"g":"M","y":1.51,"j":-0.1},{"g":"M","y":1.52,"j":-0.06},{"g":"M","y":1.49,"j":-0.019},{"g":"M","y":1.5,"j":-0.006},{"g":"M","y":1.51,"j":0.0},{"g":"M","y":1.49,"j":0.013},{"g":"M","y":1.5,"j":0.022},{"g":"M","y":1.51,"j":0.091},
      {"g":"M","y":1.24,"j":-0.072},{"g":"M","y":1.26,"j":-0.047},{"g":"M","y":1.23,"j":-0.038},{"g":"M","y":1.25,"j":0.0},{"g":"M","y":1.26,"j":0.022},{"g":"M","y":1.25,"j":0.044},{"g":"M","y":1.24,"j":0.05},{"g":"M","y":1.26,"j":0.053},{"g":"M","y":1.25,"j":0.078},
      {"g":"M","y":0.97,"j":-0.097},{"g":"M","y":1.0,"j":-0.053},{"g":"M","y":0.99,"j":-0.031},{"g":"M","y":1.0,"j":-0.022},{"g":"M","y":1.0,"j":-0.016},{"g":"M","y":0.99,"j":-0.006},{"g":"M","y":1.0,"j":0.0},{"g":"M","y":1.01,"j":0.009},{"g":"M","y":0.99,"j":0.019},{"g":"M","y":1.0,"j":0.091}
    ]
  },
  "resolve": {"scale": {"x": "independent"}},
  "layer": [
    {
      "data": {"name": "violin"},
      "transform": [{"filter": "datum.g == 'F'"}],
      "mark": {"type": "area", "orient": "horizontal", "interpolate": "monotone", "fill": "#FCC8C5", "stroke": "#333333", "strokeWidth": 5.5},
      "encoding": {
        "x": {"field": "w", "type": "quantitative", "stack": "center", "scale": {"domain": [-0.269, 1.821]}, "axis": null},
        "y": {"field": "y", "type": "quantitative", "scale": {"domain": [0, 6], "nice": false}, "title": "Test anxiety", "axis": {"values": [0, 2, 4, 6], "format": "d", "labelPadding": 11, "titlePadding": 22, "title": "Test anxiety"}}
      }
    },
    {
      "data": {"name": "violin"},
      "transform": [{"filter": "datum.g == 'M'"}],
      "mark": {"type": "area", "orient": "horizontal", "interpolate": "monotone", "fill": "#99E5E7", "stroke": "#333333", "strokeWidth": 5.5},
      "encoding": {
        "x": {"field": "w", "type": "quantitative", "stack": "center", "scale": {"domain": [-1.164, 0.926]}, "axis": null},
        "y": {"field": "y", "type": "quantitative", "title": "Test anxiety"}
      }
    },
    {
      "data": {"name": "box"},
      "transform": [{"filter": "datum.g == 'F'"}],
      "mark": {"type": "rule", "color": "#333333", "strokeWidth": 5},
      "encoding": {
        "x": {"datum": 0, "type": "quantitative", "scale": {"domain": [-0.62, 1.47]}, "axis": null},
        "y": {"field": "lo", "type": "quantitative", "title": "Test anxiety"},
        "y2": {"field": "hi"}
      }
    },
    {
      "data": {"name": "box"},
      "transform": [{"filter": "datum.g == 'M'"}],
      "mark": {"type": "rule", "color": "#333333", "strokeWidth": 5},
      "encoding": {
        "x": {"datum": 0, "type": "quantitative", "scale": {"domain": [-1.62, 0.47]}, "axis": null},
        "y": {"field": "lo", "type": "quantitative", "title": "Test anxiety"},
        "y2": {"field": "hi"}
      }
    },
    {
      "data": {"name": "box"},
      "transform": [{"filter": "datum.g == 'F'"}],
      "mark": {"type": "rect", "fill": "#F98680", "stroke": "#333333", "strokeWidth": 5},
      "encoding": {
        "x": {"datum": -0.075, "type": "quantitative", "scale": {"domain": [-0.62, 1.47]}, "axis": null},
        "x2": {"datum": 0.075},
        "y": {"field": "q1", "type": "quantitative", "title": "Test anxiety"},
        "y2": {"field": "q3"}
      }
    },
    {
      "data": {"name": "box"},
      "transform": [{"filter": "datum.g == 'M'"}],
      "mark": {"type": "rect", "fill": "#1FC7CB", "stroke": "#333333", "strokeWidth": 5},
      "encoding": {
        "x": {"datum": -0.075, "type": "quantitative", "scale": {"domain": [-1.62, 0.47]}, "axis": null},
        "x2": {"datum": 0.075},
        "y": {"field": "q1", "type": "quantitative", "title": "Test anxiety"},
        "y2": {"field": "q3"}
      }
    },
    {
      "data": {"name": "box"},
      "transform": [{"filter": "datum.g == 'F'"}],
      "mark": {"type": "rule", "color": "#333333", "strokeWidth": 8},
      "encoding": {
        "x": {"datum": -0.075, "type": "quantitative", "scale": {"domain": [-0.62, 1.47]}, "axis": null},
        "x2": {"datum": 0.075},
        "y": {"field": "med", "type": "quantitative", "title": "Test anxiety"}
      }
    },
    {
      "data": {"name": "box"},
      "transform": [{"filter": "datum.g == 'M'"}],
      "mark": {"type": "rule", "color": "#333333", "strokeWidth": 8},
      "encoding": {
        "x": {"datum": -0.075, "type": "quantitative", "scale": {"domain": [-1.62, 0.47]}, "axis": null},
        "x2": {"datum": 0.075},
        "y": {"field": "med", "type": "quantitative", "title": "Test anxiety"}
      }
    },
    {
      "data": {"name": "pts"},
      "transform": [{"filter": "datum.g == 'F'"}],
      "mark": {"type": "circle", "size": 380, "fill": "#000000", "fillOpacity": 0.4, "stroke": "#000000", "strokeOpacity": 0.4, "strokeWidth": 4},
      "encoding": {
        "x": {"field": "j", "type": "quantitative", "scale": {"domain": [-0.62, 1.47]}, "axis": {"values": [0, 1], "labelExpr": "datum.value < 0.5 ? 'F' : 'M'", "labelAngle": -15, "labelAlign": "center", "labelBaseline": "middle", "labelPadding": 86, "labelOffset": -9, "title": null}},
        "y": {"field": "y", "type": "quantitative", "title": "Test anxiety"}
      }
    },
    {
      "data": {"name": "pts"},
      "transform": [{"filter": "datum.g == 'M'"}],
      "mark": {"type": "circle", "size": 380, "fill": "#000000", "fillOpacity": 0.4, "stroke": "#000000", "strokeOpacity": 0.4, "strokeWidth": 4},
      "encoding": {
        "x": {"field": "j", "type": "quantitative", "scale": {"domain": [-1.62, 0.47]}, "axis": null},
        "y": {"field": "y", "type": "quantitative", "title": "Test anxiety"}
      }
    }
  ]
}
